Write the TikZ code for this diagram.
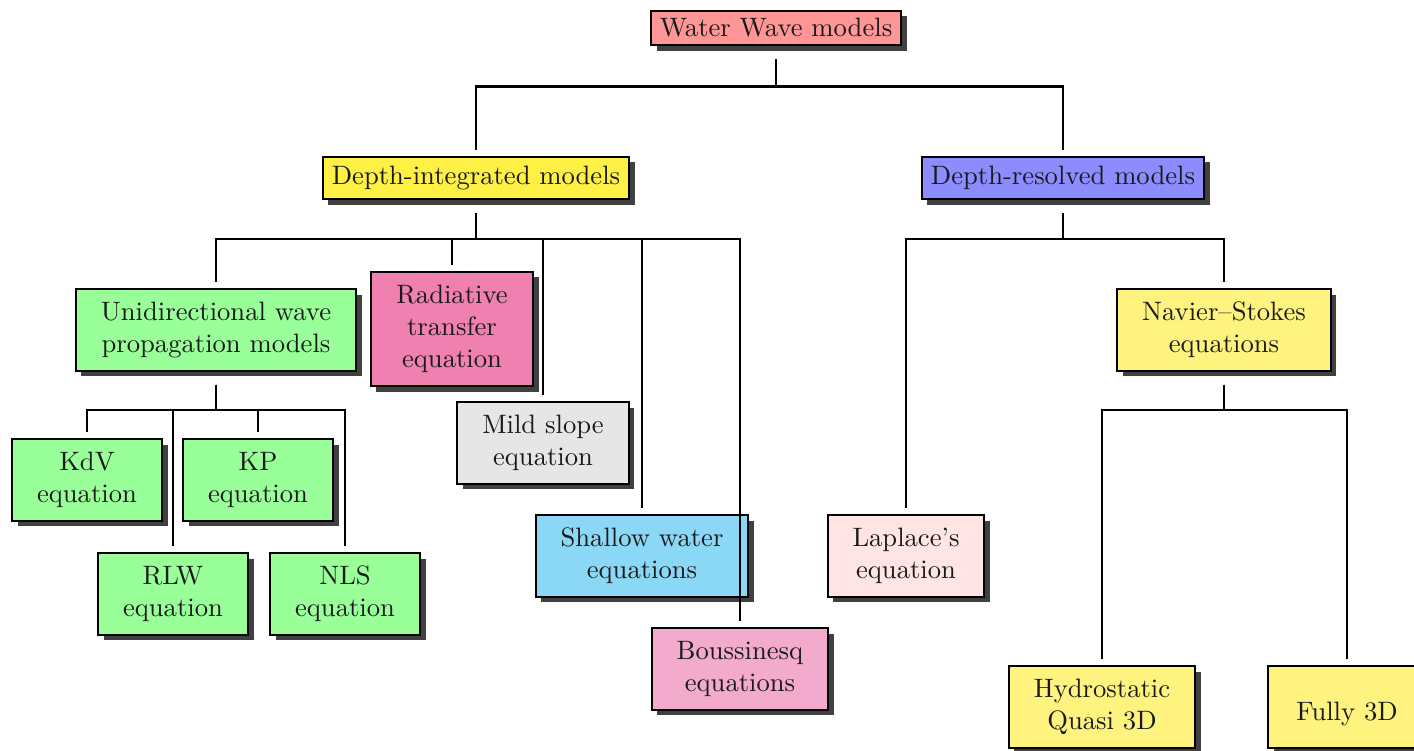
\documentclass[tikz,border=0pt]{standalone}
\usepackage{tikz}
\usetikzlibrary{positioning, shadows}

\definecolor{rootred}{RGB}{255,150,150}
\definecolor{intyellow}{RGB}{255,240,70}
\definecolor{resblue}{RGB}{140,140,255}
\definecolor{unigreen}{RGB}{153,255,153}
\definecolor{radpink}{RGB}{240,128,176}
\definecolor{mildgray}{RGB}{230,230,230}
\definecolor{swblue}{RGB}{138,216,245}
\definecolor{bsqpink}{RGB}{242,170,205}
\definecolor{lappink}{RGB}{255,228,230}
\definecolor{nsyellow}{RGB}{255,243,128}

\begin{document}
\begin{tikzpicture}[
    x=0.0132cm, y=-0.0132cm,
    thick,
    link/.style={draw, shorten <=0.166cm, shorten >=0.078cm},
    model/.style={draw, align=center, inner sep=2pt, text=black!90,
        drop shadow={shadow xshift=0.073cm, shadow yshift=-0.073cm, fill=black!75, opacity=1}},
    rootbox/.style={model, minimum width=3.30cm, minimum height=0.46cm},
    classbox/.style={model, minimum height=0.56cm},
    eqbox/.style={model, minimum height=1.08cm},
    kdvbox/.style={eqbox, minimum width=1.98cm, fill=unigreen},
    nsbox/.style={eqbox, fill=nsyellow},
]
\useasboundingbox (0,0) rectangle (1414,751);

% top levels
\node[rootbox, fill=rootred] (root) at (776,28) {Water Wave models};
\node[classbox, fill=intyellow, minimum width=4.04cm] (dim) at (476,178) {Depth-integrated models};
\node[classbox, fill=resblue, minimum width=3.73cm] (drm) at (1063,178) {Depth-resolved models};

% depth-integrated
\node[eqbox, fill=unigreen, minimum width=3.70cm] (uni) at (216,330) {Unidirectional wave\\propagation models};
\node[eqbox, fill=radpink, minimum width=2.14cm, minimum height=1.51cm] (rte) at (452,329) {Radiative\\transfer\\equation};
\node[eqbox, fill=mildgray, minimum width=2.26cm] (msl) at (543,443) {Mild slope\\equation};
\node[eqbox, fill=swblue, minimum width=2.80cm] (swe) at (642,556) {Shallow water\\equations};
\node[eqbox, fill=bsqpink, minimum width=2.33cm] (bsq) at (740,669) {Boussinesq\\equations};

% unidirectional
\node[kdvbox] (kdv) at (87,480) {KdV\\equation};
\node[kdvbox] (kp) at (258,480) {KP\\equation};
\node[kdvbox] (rlw) at (173,594) {RLW\\equation};
\node[kdvbox] (nls) at (345,594) {NLS\\equation};

% depth-resolved
\node[eqbox, fill=lappink, minimum width=2.07cm] (lap) at (906,556) {Laplace's\\equation};
\node[nsbox, minimum width=2.82cm] (nse) at (1224,330) {Navier--Stokes\\equations};
\node[nsbox, minimum width=2.46cm] (hyd) at (1102,707) {Hydrostatic\\Quasi 3D};
\node[nsbox, minimum width=2.08cm] (full) at (1347,707) {\mbox{}\\Fully 3D};

% connectors
\foreach \c in {dim,drm}
    \draw[link] (root.south) -- ++(0,40) -| (\c.north);
\foreach \c in {uni,rte,msl,swe,bsq}
    \draw[link] (dim.south) -- ++(0,39) -| (\c.north);
\foreach \c in {lap,nse}
    \draw[link] (drm.south) -- ++(0,39) -| (\c.north);
\foreach \c in {kdv,kp,rlw,nls}
    \draw[link] (uni.south) -- ++(0,38) -| (\c.north);
\foreach \c in {hyd,full}
    \draw[link] (nse.south) -- ++(0,38) -| (\c.north);
\end{tikzpicture}
\end{document}
